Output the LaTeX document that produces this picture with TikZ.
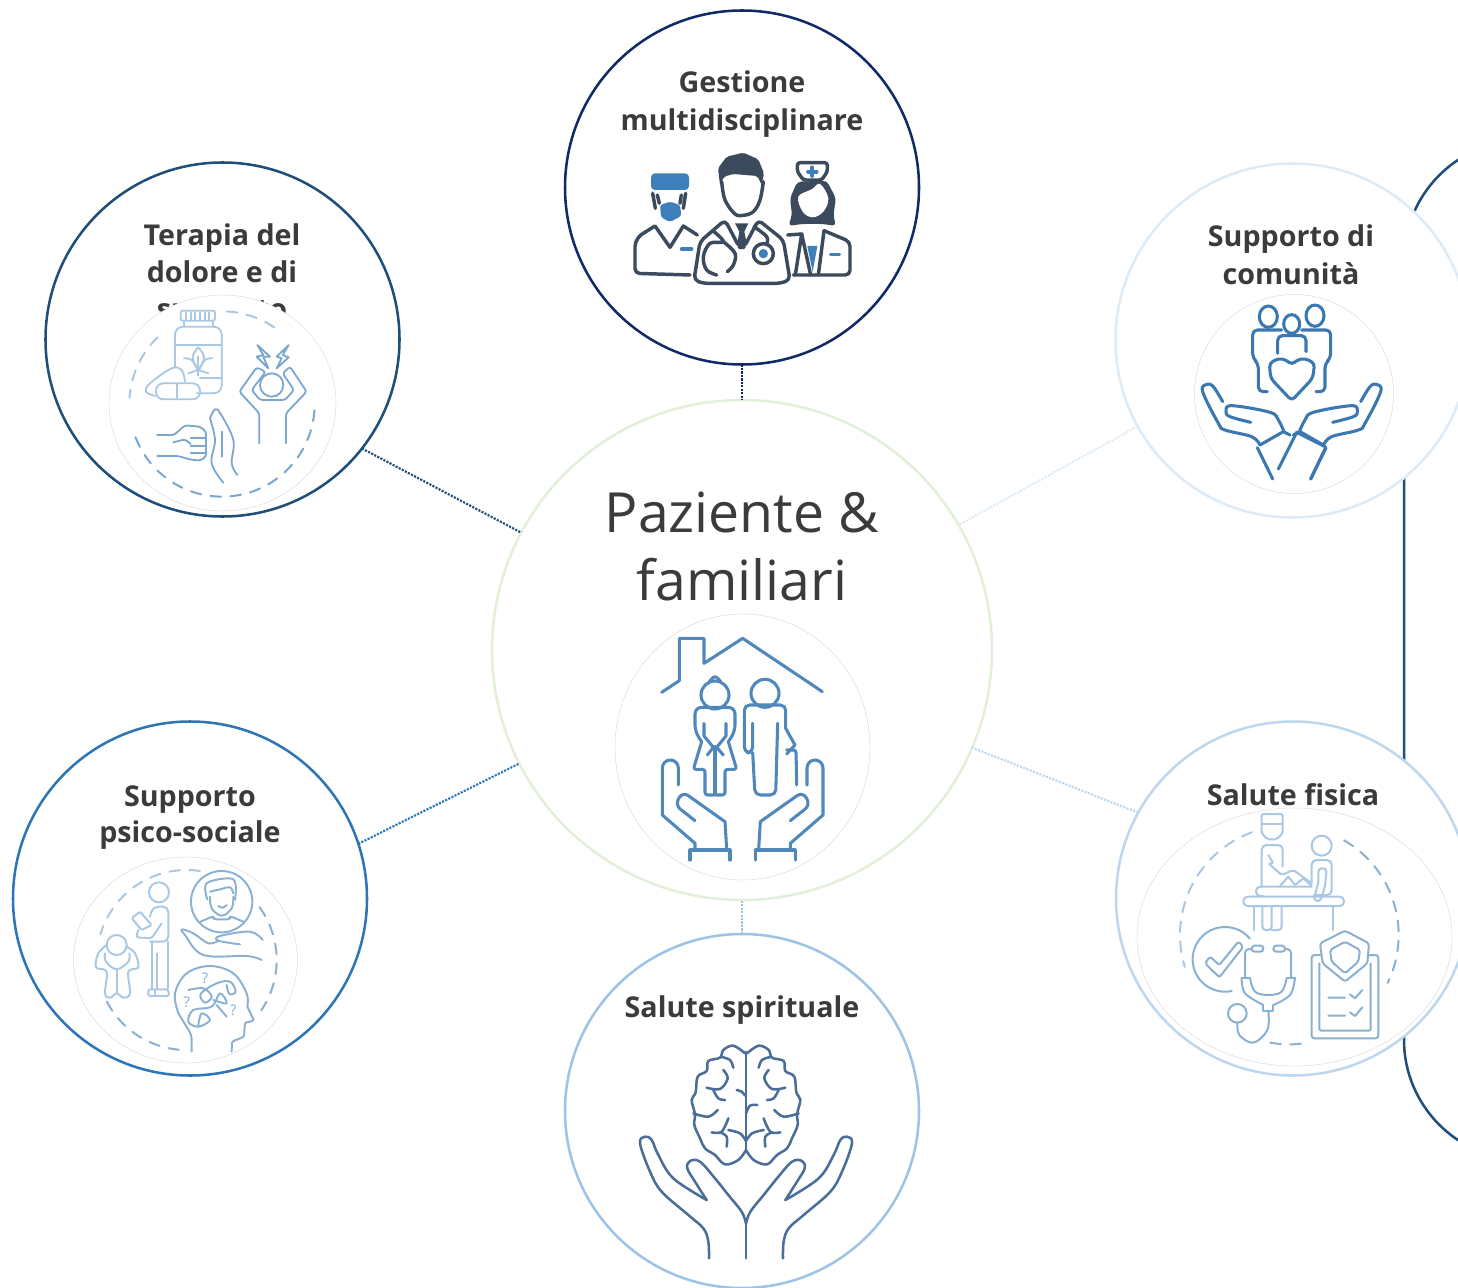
\documentclass[tikz,border=0pt]{standalone}
\usepackage{fontspec}
\setmainfont{Open Sans}
\definecolor{cNavy}{HTML}{0F2A66}
\definecolor{cDark}{HTML}{1F4E79}
\definecolor{cBlue}{HTML}{2E75B6}
\definecolor{cPale}{HTML}{DEEBF7}
\definecolor{cSky}{HTML}{BDD7EE}
\definecolor{cSoft}{HTML}{9DC3E6}
\definecolor{cGreen}{HTML}{E2F0D9}
\definecolor{cText}{HTML}{3B3B3B}
\definecolor{cSlate}{HTML}{3B4A5C}
\definecolor{cMed}{HTML}{3D7EBB}
\definecolor{cHome}{HTML}{5088BC}
\definecolor{cComm}{HTML}{3B78B0}
\definecolor{cBrain}{HTML}{4A6E98}
\definecolor{cIcoA}{HTML}{A9C8E4}
\definecolor{cIcoB}{HTML}{8AB0D2}
\definecolor{cIcoC}{HTML}{7BA7CF}
\tikzset{
  ring/.style={circle,draw=#1,fill=white,line width=1.9pt,minimum size=265.5pt,inner sep=0pt,outer sep=0pt},
  hub/.style={circle,draw=#1,fill=white,line width=1.9pt,minimum size=375pt,inner sep=0pt,outer sep=0pt},
  link/.style={densely dotted,line width=1.6pt,draw=#1},
  title/.style={text=cText,font=\fontsize{21.5pt}{26pt}\selectfont\bfseries,inner sep=0pt,anchor=base},
  bigtitle/.style={text=cText,font=\fontsize{41.5pt}{50pt}\selectfont,inner sep=0pt,anchor=base},
  disc/.style={draw=black!14,line width=0.35pt,fill=white},
  ico/.style={line width=#1,line join=round,line cap=round},
  dashring/.style={draw=#1,line width=1.5pt,dash pattern=on 8pt off 7pt,line cap=round},
  qmark/.style={text=cIcoB,font=\fontsize{11pt}{12pt}\selectfont,inner sep=0pt}
}
\newcommand{\crv}[2][]{\draw[#1] plot[smooth,tension=0.6] coordinates {#2};}
\newcommand{\darc}[6]{\draw[dashring=#1] plot[domain=#5:#6,samples=70] ({#2+#4*cos(\x)},{#3+#4*sin(\x)});}
\begin{document}
\begin{tikzpicture}[x=0.75pt,y=-0.75pt]
\clip (0,0) rectangle (1458,1287);
\coordinate (frameA) at (1524,140);
\coordinate (frameB) at (1404,260);
\coordinate (frameC) at (1404,1040);
\coordinate (frameD) at (1524,1160);
\draw[cDark,line width=1.9pt] (frameA) .. controls (1458,140) and (1404,194) .. (frameB) -- (frameC) .. controls (1404,1106) and (1458,1160) .. (frameD);
\node[hub=cGreen] (ct) at (742,650) {};
\node[ring=cNavy] (tp) at (742,187.5) {};
\node[ring=cDark] (tl) at (222.5,339.5) {};
\node[ring=cPale] (tr) at (1292.5,340.5) {};
\node[ring=cBlue] (bl) at (190,898.5) {};
\node[ring=cSky] (br) at (1293,898.5) {};
\node[ring=cSoft] (bt) at (742,1111) {};
\draw[link=cNavy] (tp.south) -- (ct.north);
\draw[link=cDark] (tl.-38.7) -- (ct.152.3);
\draw[link=cPale] (tr.209) -- (ct.30.2);
\draw[link=cBlue] (bl.18.2) -- (ct.207);
\draw[link=cSky] (br.151) -- (ct.-23.5);
\draw[link=cSoft] (bt.north) -- (ct.south);
\node[bigtitle] (t1a) at (742,532) {Paziente \&};
\node[bigtitle] (t1b) at (742,600) {familiari};
\node[title] (t2a) at (742,93) {Gestione};
\node[title] (t2b) at (742,131) {multidisciplinare};
\node[title] (t3a) at (222,246) {Terapia del};
\node[title] (t3b) at (222,283) {dolore e di};
\node[title] (t3c) at (222,320) {supporto};
\node[title] (t4a) at (1291,247) {Supporto di};
\node[title] (t4b) at (1291,285) {comunità};
\node[title] (t5a) at (190,806) {Supporto};
\node[title] (t5b) at (190,842) {psico-sociale};
\node[title] (t6a) at (1293,805) {Salute fisica};
\node[title] (t7a) at (742,1017) {Salute spirituale};
\draw[disc] (742.5,747) ellipse (127.5 and 133);
\draw[disc] (222.5,403) ellipse (113.5 and 108);
\draw[disc] (185.5,960) ellipse (112 and 103);
\draw[disc] (1294,394) circle (99.5);
\draw[disc] (1294.5,937) ellipse (157.5 and 129);

% ---- medical staff
\begin{scope}[shift={(620,140)},scale=1/3,ico=2.6pt,cSlate]
  \fill[cMed,rounded corners=3pt] (93,150) -- (93,100) -- (207,100) -- (207,150) -- cycle;
  \fill[cMed,rounded corners=2pt] (120,195) -- (150,185) -- (180,195) -- (184,228) -- (150,246) -- (123,232) -- cycle;
  \draw (98,160) -- (106,205) (112,165) -- (118,190); \draw (197,160) -- (190,205) (184,165) -- (180,190);
  \draw[rounded corners=3.5pt] (210,405) -- (45,400) -- (45,305) -- (62,285);
  \draw (62,285) -- (105,258) -- (150,322) -- (190,258) -- (232,285);
  \draw[cMed] (185,327) -- (215,327);
  % doctor
  \fill[rounded corners=1.5pt] (300,135) -- (294,85) -- (320,50) -- (370,38) -- (415,58) -- (432,100) -- (425,135) -- (412,108) -- (340,102) -- (312,110) -- cycle;
  \crv{(305,125)(315,180)(345,222)(370,226)(400,215)(420,180)(430,125)}
  \draw[rounded corners=3.5pt] (250,430) -- (222,420) -- (240,305) -- (315,240) -- (358,322) -- (372,322) -- (415,240) -- (490,300) -- (510,420) -- (480,430) -- cycle;
  \fill (345,250) -- (385,250) -- (373,275) -- (380,310) -- (365,325) -- (352,310) -- (358,275) -- cycle;
  \crv{(282,275)(310,305)(270,310)(250,350)(260,390)(290,405)}
  \crv{(310,305)(345,340)(340,375)(322,395)}
  \crv{(402,260)(440,290)(440,312)}
  \draw (430,341) circle (30);
  \fill[cMed] (430,341) circle (14);
  % nurse
  \fill[rounded corners=3pt] (532,125) -- (510,175) -- (516,225) -- (505,258) -- (545,252) -- (610,252) -- (648,258) -- (640,225) -- (648,175) -- (620,122) -- cycle;
  \fill[white] plot[smooth cycle,tension=0.6] coordinates {(535,170)(575,148)(600,132)(625,175)(610,215)(578,232)(548,215)};
  \draw[rounded corners=2pt,fill=white] (532,68) -- (622,68) -- (622,95) -- (605,120) -- (550,120) -- (532,95) -- cycle;
  \draw[cMed,line width=2.8pt] (577,82) -- (577,108) (564,95) -- (590,95);
  \fill[cMed] (562,318) -- (592,318) -- (578,395) -- cycle;
  \draw (503,285) -- (545,282) -- (526,405);
  \draw (545,282) -- (572,405);
  \draw (595,405) -- (612,272);
  \draw[rounded corners=3.5pt] (612,272) -- (690,305) -- (690,405) -- (520,405);
  \draw[cMed] (632,344) -- (658,344);
\end{scope}

% ---- pain therapy
\begin{scope}[shift={(100,210)},scale=1/3,ico=1.35pt,cIcoA]
  \darc{cIcoA}{366}{582}{278}{-87}{-52}
  \darc{cIcoA}{366}{582}{278}{-134}{-176}
  \darc{cIcoC}{366}{582}{278}{4}{164}
  \draw[rounded corners=1.5pt] (242,302) rectangle (345,332);
  \foreach \k in {258,272,286,300,314,328} \draw (\k,308) -- (\k,328);
  \draw (252,332) -- (252,350) (338,332) -- (338,350);
  \draw[rounded corners=6pt] (225,470) -- (225,350) -- (365,350) -- (365,550) -- (290,550);
  \draw (225,405) -- (365,405) (300,505) -- (365,505);
  \draw (295,440) -- (295,497);
  \crv{(295,412)(312,440)(300,475)(295,482)}
  \crv{(295,412)(278,440)(290,475)(295,482)}
  \crv{(252,445)(275,450)(295,482)}
  \crv{(337,445)(315,450)(295,482)}
  \draw (265,490) -- (295,480) -- (325,490);
  \draw[rounded corners=5.5pt] (232,520) -- (300,520) -- (300,568) -- (168,568) -- (168,520) -- cycle;
  \draw (232,520) -- (232,568);
  \crv{(165,558)(138,545)(150,520)(215,475)(245,480)(255,515)}
  \draw[cIcoC] (515,525) circle (35);
  \draw[cIcoC,rounded corners=2pt] (478,700) -- (478,610) -- (418,545) -- (470,472) -- (497,485) -- (455,540) -- (480,570) -- (555,570) -- (582,540) -- (548,490) -- (570,470) -- (620,545) -- (558,610) -- (558,700);
  \draw[cIcoC] (472,405) -- (510,440) -- (490,440) -- (505,475) -- (470,440) -- (490,435) -- cycle;
  \draw[cIcoC] (566,405) -- (530,440) -- (545,445) -- (530,475) -- (566,442) -- (548,435) -- cycle;
  \draw[cIcoC,rounded corners=2pt] (172,675) -- (222,675) -- (255,646) -- (300,650) -- (318,665) -- (318,740) -- (300,752) -- (268,748) -- (235,738) -- (172,738);
  \draw[cIcoC] (272,685) -- (318,685) (272,708) -- (318,708) (272,730) -- (318,730);
  \draw[cIcoC,rounded corners=2pt] (220,697) -- (255,688) -- (272,702);
  \crv[cIcoC]{(330,625)(345,598)(362,612)(400,690)(395,760)(412,795)}
  \crv[cIcoC]{(330,625)(345,690)(335,760)(370,818)}
  \draw[cIcoC] (365,665) -- (365,740);
\end{scope}

% ---- home
\begin{scope}[shift={(610,610)},scale=1/3,ico=2.3pt,cHome]
  \draw (155,247) -- (208,212) -- (208,85) -- (282,85) -- (282,160) -- (398,85) -- (637,245);
  \draw (315,255) circle (42);
  \crv{(298,215)(315,200)(332,215)}
  \draw[rounded corners=2pt] (310,555) -- (285,555) -- (285,478) -- (250,478) -- (275,395);
  \draw[rounded corners=5pt] (275,395) -- (255,365) -- (255,292) -- (375,292) -- (375,365) -- (355,395);
  \draw[rounded corners=2pt] (355,395) -- (380,478) -- (345,478) -- (345,555) -- (320,555);
  \draw (315,410) -- (315,555);
  \draw (282,340) -- (282,378) -- (310,412) -- (292,435);
  \draw (348,340) -- (348,378) -- (320,412) -- (340,435);
  \draw (465,250) circle (42);
  \draw[rounded corners=4pt] (428,340) -- (428,428) -- (403,428) -- (403,285) -- (527,285) -- (527,355);
  \draw (527,355) -- (555,405) -- (530,432);
  \draw[rounded corners=4pt] (428,428) -- (435,555) -- (497,555) -- (503,340);
  \draw[rounded corners=2pt] (530,420) -- (558,420) -- (560,525);
  \foreach \s/\o in {1/0,-1/796} {
    \begin{scope}[shift={(\o,0)},xscale=\s]
      \draw[rounded corners=6pt] (205,525) -- (205,450) -- (157,450) -- (157,615);
      \draw (157,615) -- (255,700) -- (255,718);
      \draw[rounded corners=5pt] (255,632) -- (195,585) -- (218,545) -- (345,635);
      \draw (345,635) -- (350,718);
      \draw (240,750) -- (240,720) -- (360,720) -- (360,750);
    \end{scope}}
\end{scope}

% ---- psycho-social
\begin{scope}[shift={(70,850)},scale=1/3,ico=1.45pt,cIcoA]
  \darc{cIcoA}{350}{330}{270}{-81.5}{-163.5}
  \darc{cIcoB}{350}{330}{270}{-36}{34}
  \darc{cIcoB}{350}{330}{270}{152.5}{95}
  \draw[cIcoB] (455,155) circle (92);
  \crv[cIcoB]{(420,140)(425,175)(455,197)(485,175)(490,140)}
  \crv[cIcoB]{(412,148)(410,100)(480,85)(497,105)(495,150)}
  \crv[cIcoB]{(420,125)(450,118)(480,112)(490,130)}
  \crv[cIcoB]{(445,168)(458,173)(470,165)}
  \draw[cIcoB,rounded corners=2pt] (392,215) -- (430,198) -- (430,208) -- (480,208) -- (480,198) -- (520,215);
  \crv[cIcoB]{(578,270)(540,245)(450,258)(445,272)(510,283)}
  \crv[cIcoB]{(445,272)(415,280)(370,250)(335,238)(345,255)(400,315)(530,318)(575,330)}
  \draw (267,127) circle (30);
  \draw[rounded corners=4pt] (240,275) -- (295,275) -- (295,170) -- (248,170) -- (240,200);
  \draw (245,275) -- (245,415) (295,275) -- (295,415) (262,310) -- (262,415);
  \draw[rounded corners=1.5pt] (235,438) -- (235,418) -- (295,418) -- (297,438) -- cycle (255,418) -- (255,438);
  \draw[rounded corners=1pt] (185,205) -- (210,185) -- (245,225) -- (215,240) -- cycle;
  \draw[rounded corners=2pt] (205,240) -- (198,262) -- (245,265) -- (275,220);
  \draw (140,285) circle (30);
  \crv{(110,285)(85,310)(78,352)(110,365)(105,430)(120,443)(140,430)(160,443)(180,430)(175,365)(205,352)(195,310)(170,290)}
  \crv{(105,310)(108,335)(140,358)(175,335)(178,310)}
  \draw (140,358) -- (140,430);
  \draw[cIcoB,rounded corners=3pt] (365,605) -- (365,555) -- (325,490);
  \crv[cIcoB]{(325,490)(315,430)(350,370)(420,348)(490,370)(530,430)(532,470)}
  \draw[cIcoB,rounded corners=1pt] (532,470) -- (552,512) -- (525,518) -- (522,560) -- (486,575) -- (485,605);
  \crv[cIcoB]{(355,420)(400,415)(425,440)(405,458)(392,432)(440,400)(480,395)(497,425)(478,432)(470,405)}
  \crv[cIcoB]{(430,450)(470,460)(450,430)(425,470)(370,480)(355,515)(385,530)(420,510)(395,490)(385,525)}
  \crv[cIcoB]{(440,465)(470,500)}
  \node[qmark] (q1) at (405,385) {?};
  \node[qmark] (q2) at (350,458) {?};
  \node[qmark] (q3) at (490,480) {?};
\end{scope}

% ---- physical health
\begin{scope}[shift={(1130,800)},scale=1/3,ico=1.5pt,cIcoA]
  \darc{cIcoA}{478}{405}{328}{250}{163}
  \darc{cIcoB}{478}{405}{328}{-60}{26}
  \darc{cIcoB}{478}{405}{328}{100}{80}
  \draw[rounded corners=1.5pt] (395,42) -- (458,42) -- (458,100) -- (440,118) -- (412,118) -- (395,100) -- cycle;
  \draw (395,72) -- (458,72);
  \draw[rounded corners=3.5pt] (395,260) -- (395,135) -- (458,135) -- (458,200);
  \draw[rounded corners=1.5pt] (415,165) -- (430,190) -- (415,190) -- (455,225) -- (490,210) -- (545,250);
  \draw (575,137) circle (30);
  \draw[rounded corners=3.5pt] (545,250) -- (545,180) -- (605,180) -- (605,285) -- (552,285);
  \draw[rounded corners=2.5pt] (565,205) -- (590,205) -- (585,260) -- (570,305) -- (550,300) -- (565,250) -- cycle;
  \draw (450,258) -- (475,230) -- (495,255) -- (520,235) -- (545,258);
  \draw[rounded corners=3.2pt] (340,290) rectangle (642,318);
  \draw[rounded corners=3.2pt] (545,260) -- (378,260) -- (378,288) -- (400,288);
  \draw (372,318) -- (372,390) (610,318) -- (610,390);
  \draw[rounded corners=2.5pt] (397,318) -- (397,390) -- (425,390) -- (425,318) (425,390) -- (455,390) -- (455,318);
  \draw[cIcoB] plot[domain=-40:-282,samples=70] ({285+97*cos(\x)},{478+97*sin(\x)});
  \draw[cIcoB,rounded corners=1.5pt] (225,490) -- (268,532) -- (340,440) -- (325,425) -- (268,495) -- (240,470) -- cycle;
  \draw[cIcoB,rounded corners=2.2pt] (365,437) rectangle (400,455);
  \draw[cIcoB,rounded corners=2.2pt] (430,437) rectangle (465,455);
  \draw[cIcoB,rounded corners=3pt] (365,447) -- (345,447) -- (345,530);
  \draw[cIcoB,rounded corners=3pt] (465,447) -- (483,447) -- (483,530);
  \crv[cIcoB]{(360,535)(375,575)(415,585)(455,575)(470,535)}
  \draw[cIcoB] (360,535) -- (335,535);
  \draw[cIcoB] (470,535) -- (495,535);
  \crv[cIcoB]{(335,535)(345,580)(400,615)}
  \crv[cIcoB]{(495,535)(480,585)(430,615)}
  \draw[cIcoB] (400,615) -- (400,632) -- (430,632) -- (430,615);
  \crv[cIcoB]{(415,632)(412,690)(370,728)(328,705)(322,668)}
  \draw[cIcoB] (322,640) circle (28);
  \draw[cIcoB,rounded corners=2pt] (575,465) -- (545,465) -- (545,715) -- (745,715) -- (745,465) -- (715,465);
  \draw[cIcoB,rounded corners=1.5pt] (568,490) -- (568,692) -- (722,692) -- (722,490);
  \fill[white] (645,392) -- (717,430) -- (715,490) -- (645,545) -- (575,490) -- (570,430) -- cycle;
  \draw[cIcoB,rounded corners=2pt] (645,392) -- (717,430) -- (712,490) -- (645,545) -- (578,490) -- (570,430) -- cycle;
  \draw[cIcoB,rounded corners=1.5pt] (645,425) -- (690,450) -- (685,485) -- (645,520) -- (605,485) -- (600,450) -- cycle;
  \draw[cIcoB] (595,593) -- (645,593) (660,583) -- (675,595) -- (697,570);
  \draw[cIcoB] (595,647) -- (645,647) (660,637) -- (675,648) -- (697,622);
\end{scope}

% ---- community
\begin{scope}[shift={(1180,295)},scale=1/3,ico=2.3pt,cComm]
  \draw (265,65) ellipse (27 and 32);
  \draw (405,62) ellipse (27 and 32);
  \draw (335,87) ellipse (24 and 28);
  \draw[rounded corners=3.5pt] (262,290) -- (235,290) -- (235,205) -- (218,190) -- (218,105) -- (262,105) -- (305,105);
  \draw[rounded corners=3.5pt] (408,290) -- (435,290) -- (435,205) -- (452,190) -- (452,105) -- (408,105) -- (365,105);
  \draw[rounded corners=3.5pt] (293,175) -- (293,122) -- (378,122) -- (378,170);
  \draw[rounded corners=3pt] (335,317) -- (272,250) -- (268,205) -- (295,190) -- (320,195) -- (335,210) -- (350,195) -- (375,190) -- (404,205) -- (398,250) -- cycle;
  \foreach \s/\o in {1/0,-1/670} {
    \begin{scope}[shift={(\o,0)},xscale=\s]
      \crv{(128,320)(100,275)(80,268)(68,290)(115,385)(135,405)(215,425)(240,450)}
      \crv{(212,382)(150,365)(138,350)(155,332)(270,352)(295,375)(312,410)}
      \draw (240,450) -- (310,410) -- (330,420);
      \draw (232,458) -- (278,552);
    \end{scope}}
  \draw (295,522) -- (350,412) -- (435,455);
  \draw (437,458) -- (392,552);
\end{scope}

% ---- spiritual health
\begin{scope}[shift={(625,1035)},scale=1/3,ico=1.9pt,cBrain]
  \draw (363,50) -- (363,345) (363,565) -- (363,670);
  \foreach \s/\o in {1/0,-1/726} {
    \begin{scope}[shift={(\o,0)},xscale=\s]
      \crv{(360,55)(325,32)(295,45)(285,68)(250,78)(245,108)(218,125)(212,172)(200,195)(210,238)(208,270)(225,310)(240,340)(270,360)(300,388)(340,375)(363,345)}
      \crv{(325,98)(315,75)(290,66)}
      \crv{(245,158)(285,162)(308,130)(295,105)}
      \crv{(265,165)(280,190)(300,195)}
      \crv{(205,235)(250,245)(278,225)}
      \crv{(260,292)(290,290)(310,250)}
      \crv{(285,292)(305,305)(305,335)}
      \crv{(310,285)(345,295)(363,318)}
      \crv{(245,495)(145,430)(100,360)(80,315)(60,305)(45,325)(75,410)(110,470)(190,540)(235,580)(250,620)(252,670)}
      \crv{(245,495)(210,440)(187,400)(195,378)(225,380)(270,430)(310,480)(350,530)(363,565)}
    \end{scope}}
  \crv{(335,165)(350,170)(360,182)}
  \crv{(397,210)(375,212)(363,235)}
\end{scope}
\end{tikzpicture}
\end{document}
